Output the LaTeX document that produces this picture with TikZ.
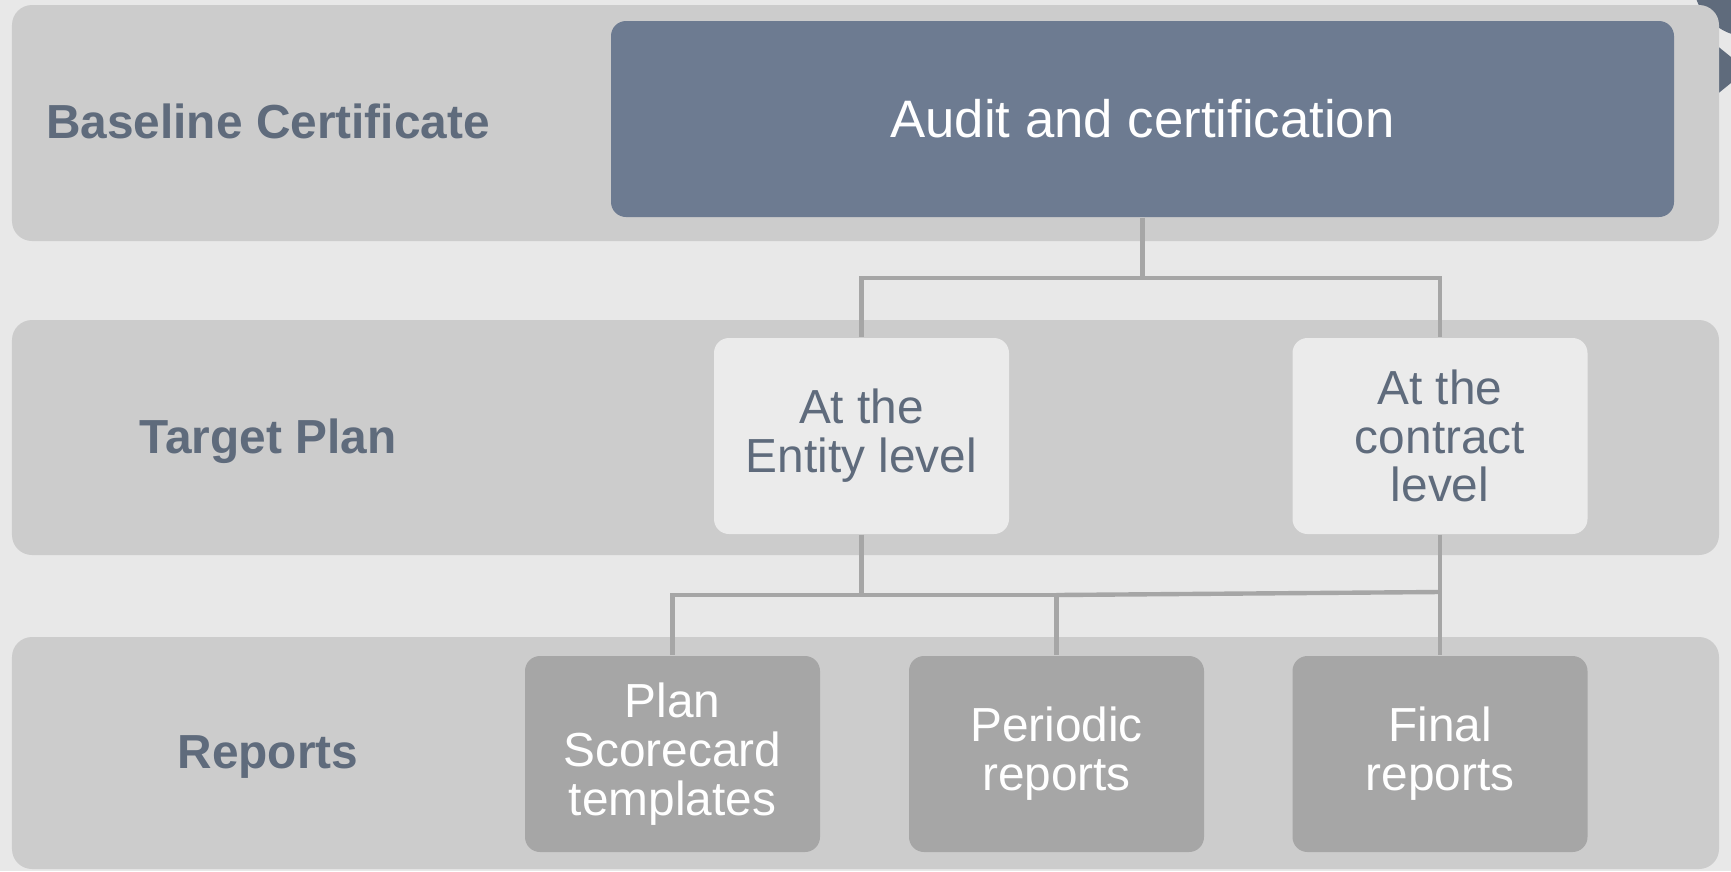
\documentclass[tikz,border=0pt]{standalone}
\usepackage{fontspec}
\setmainfont{Liberation Sans}
\usepackage{tikz}
\usepackage{xcolor}
\definecolor{pagegray}{HTML}{E8E8E8}
\definecolor{bandgray}{HTML}{CCCCCC}
\definecolor{slateblue}{HTML}{6D7B91}
\definecolor{slatetext}{HTML}{5F6B7C}
\definecolor{paleBox}{HTML}{EBEBEB}
\definecolor{midgray}{HTML}{A6A6A6}

\begin{document}
\begin{tikzpicture}[
  band/.style={fill=bandgray, rounded corners=0.2cm},
  audit/.style={fill=slateblue, rounded corners=0.15cm, minimum width=10.63cm, minimum height=1.96cm, text=white, font=\fontsize{15}{17}\selectfont},
  levelbox/.style={fill=paleBox, rounded corners=0.15cm, minimum width=2.95cm, minimum height=1.96cm, align=center, text=slatetext, font=\fontsize{13.6}{13.9}\selectfont},
  reportbox/.style={fill=midgray, rounded corners=0.15cm, minimum width=2.95cm, minimum height=1.96cm, align=center, text=white, font=\fontsize{13.6}{13.9}\selectfont},
  lbl/.style={text=slatetext, font=\bfseries\fontsize{13.6}{16}\selectfont},
  link/.style={draw=midgray, line width=1.25pt}
]
\useasboundingbox (0,0) rectangle (17.31,-8.71);
\fill[pagegray] (0,0) rectangle (17.31,-8.71);
% pieces of shapes cut off at the right edge
\fill[slatetext] (17.50,0.20) circle (0.57);
\fill[slatetext] (17.10,-0.40) -- (17.31,-0.57) -- (17.31,-0.83) -- (17.10,-1.00) -- cycle;
% bands
\fill[band] (0.12,-0.05) rectangle (17.19,-2.41);
\fill[band] (0.12,-3.20) rectangle (17.19,-5.55);
\fill[band] (0.12,-6.37) rectangle (17.19,-8.69);
% row labels
\node[lbl] (baseline) at (2.68,-1.21) {Baseline Certificate};
\node[lbl] (target) at (2.68,-4.41) {Target Plan};
\node[lbl] (reports) at (2.68,-7.57) {Reports};
% boxes
\node[audit] (audit) at (11.425,-1.19) {Audit and certification};
\node[levelbox] (entity) at (8.615,-4.36) {At the\\Entity level};
\node[levelbox] (contract) at (14.40,-4.36) {At the\\contract\\level};
\node[reportbox] (plan) at (6.725,-7.54) {Plan\\Scorecard\\templates};
\node[reportbox] (periodic) at (10.565,-7.54) {Periodic\\reports};
\node[reportbox] (final) at (14.40,-7.54) {Final\\reports};
% connectors
\coordinate (topbus) at (0,-2.78);
\coordinate (lowbus) at (0,-5.95);
\draw[link] (audit.south) -- (audit.south |- topbus) -| (entity.north);
\draw[link] (audit.south |- topbus) -| (contract.north);
\draw[link] (entity.south) -- (entity.south |- lowbus) -| (plan.north);
\draw[link] (entity.south |- lowbus) -| (periodic.north);
\draw[link] (periodic.north |- lowbus) -- ([yshift=0.03cm]contract.south |- lowbus);
\draw[link] (contract.south) -- (final.north);
\end{tikzpicture}
\end{document}
